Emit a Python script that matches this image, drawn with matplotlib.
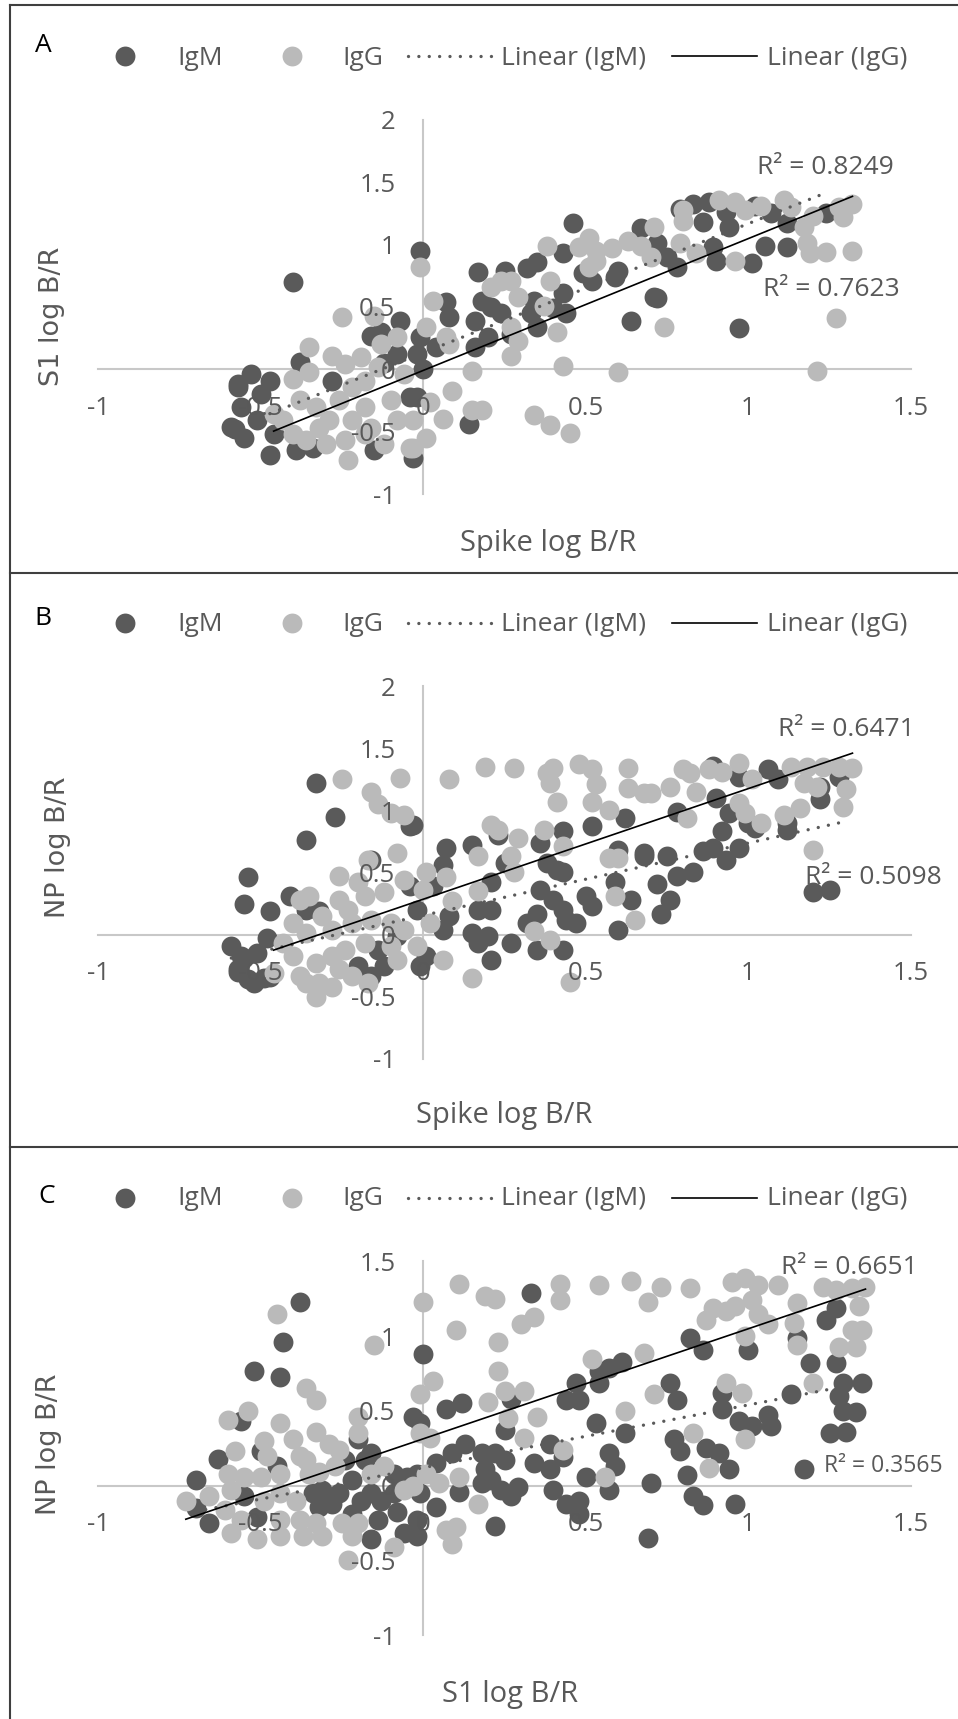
import numpy as np
import matplotlib.pyplot as plt
from matplotlib.lines import Line2D

W, H = 958, 1719

# ---- data (x, y) ----
a_igm = np.array([
    (-0.40, 0.70), (-0.07, 0.39), (-0.16, 0.27), (-0.13, 0.30), (-0.38, 0.06), (-0.53, -0.04),
    (-0.57, -0.12), (-0.47, -0.09), (-0.56, -0.30), (-0.59, -0.46), (-0.55, -0.55), (-0.51, -0.41),
    (-0.47, -0.69), (-0.39, -0.65), (-0.34, -0.63), (-0.28, -0.09), (-0.04, -0.22), (-0.15, -0.65),
    (-0.46, -0.52), (-0.57, -0.14), (-0.58, -0.48), (-0.50, -0.20), (0.00, 0.00), (-0.08, 0.12),
    (-0.12, 0.05), (-0.01, 0.95), (0.46, 1.17), (0.67, 1.13), (0.17, 0.78), (0.25, 0.79),
    (0.32, 0.81), (0.35, 0.86), (0.43, 0.93), (0.07, 0.54), (0.08, 0.42), (0.18, 0.55),
    (0.21, 0.50), (0.24, 0.45), (0.16, 0.39), (0.20, 0.26), (0.16, 0.18), (0.27, 0.28),
    (0.34, 0.55), (0.33, 0.45), (0.35, 0.34), (0.43, 0.61), (0.44, 0.45), (0.40, 0.49),
    (0.49, 0.77), (0.52, 0.71), (0.60, 0.79), (0.59, 0.74), (0.64, 0.39), (-0.01, 0.26),
    (-0.02, 0.12), (0.04, 0.18), (-0.02, -0.22), (-0.03, -0.71), (0.14, -0.44), (0.71, 0.58),
    (0.79, 1.29), (0.83, 1.33), (0.88, 1.34), (0.93, 1.26), (0.94, 1.14), (0.86, 1.18),
    (1.02, 1.31), (1.07, 1.25), (1.12, 1.17), (0.89, 0.98), (0.90, 0.87), (0.78, 0.82),
    (0.75, 0.90), (0.72, 1.01), (1.01, 0.85), (1.05, 0.99), (1.12, 0.98), (1.24, 1.25),
    (0.72, 0.57), (0.97, 0.33),
])
a_igg = np.array([
    (-0.25, 0.42), (-0.15, 0.43), (-0.35, 0.18), (-0.28, 0.11), (-0.24, 0.04), (-0.40, -0.08),
    (-0.35, -0.02), (-0.19, 0.10), (-0.13, 0.20), (-0.08, 0.26), (-0.18, -0.09), (-0.22, -0.14),
    (-0.46, -0.36), (-0.38, -0.25), (-0.33, -0.30), (-0.26, -0.25), (-0.18, -0.30), (-0.10, -0.25),
    (-0.08, -0.41), (-0.40, -0.52), (-0.36, -0.57), (-0.30, -0.60), (-0.24, -0.57), (-0.18, -0.52),
    (-0.12, -0.60), (-0.23, -0.73), (-0.04, -0.63), (-0.43, -0.41), (-0.29, -0.41), (-0.22, -0.41),
    (-0.16, -0.47), (-0.32, -0.47), (-0.06, -0.04), (-0.14, 0.02),
    (-0.01, 0.82), (0.38, 0.99), (0.51, 1.05), (0.48, 0.98), (0.53, 0.95), (0.58, 0.97),
    (0.63, 1.03), (0.67, 0.99), (0.51, 0.82), (0.53, 0.87), (0.21, 0.66), (0.24, 0.71),
    (0.27, 0.71), (0.29, 0.58), (0.39, 0.71), (0.37, 0.51), (0.03, 0.55), (0.01, 0.34),
    (0.07, 0.26), (0.08, 0.20), (0.27, 0.34), (0.29, 0.23), (0.27, 0.11), (0.41, 0.30),
    (0.15, -0.01), (0.43, 0.03), (0.60, -0.02), (0.09, -0.17), (0.02, -0.26), (0.06, -0.40),
    (0.01, -0.55), (-0.03, -0.41), (0.15, -0.33), (0.18, -0.33), (0.34, -0.37), (0.39, -0.45),
    (0.45, -0.51), (-0.03, -0.63),
    (0.71, 1.14), (0.80, 1.28), (0.80, 1.19), (0.79, 1.01), (0.70, 0.90), (0.84, 0.93),
    (0.91, 1.36), (0.96, 1.34), (0.99, 1.28), (1.04, 1.31), (1.11, 1.36), (1.13, 1.30),
    (1.17, 1.14), (1.18, 1.01), (1.19, 0.93), (1.24, 0.94), (1.28, 1.30), (1.32, 1.33),
    (1.29, 1.22), (1.32, 0.95), (0.96, 0.87), (1.27, 0.41), (0.74, 0.34), (1.21, -0.01),
    (1.20, 1.23),
])

b_igm = np.array([
    (-0.33, 1.22), (-0.27, 0.95), (-0.36, 0.76), (-0.54, 0.46), (-0.55, 0.25), (-0.47, 0.19),
    (-0.41, 0.31), (-0.36, 0.20), (-0.32, 0.19), (-0.59, -0.09), (-0.56, -0.17), (-0.51, -0.15),
    (-0.48, -0.03), (-0.57, -0.28), (-0.54, -0.36), (-0.49, -0.35), (-0.20, -0.25), (-0.16, -0.33),
    (-0.12, -0.25), (-0.16, 0.60), (-0.04, 0.87), (-0.04, 0.39), (-0.08, -0.01), (-0.14, -0.12),
    (-0.55, -0.19), (-0.57, -0.30), (-0.52, -0.39), (-0.47, -0.34),
    (-0.03, 0.88), (0.07, 0.70), (0.15, 0.72), (0.06, 0.56), (0.03, 0.39), (0.23, 0.80),
    (0.25, 0.58), (0.21, 0.42), (0.17, 0.20), (0.21, 0.20), (0.15, 0.01), (0.17, -0.07),
    (0.20, -0.01), (0.21, -0.20), (0.27, -0.07), (0.35, 0.17), (0.32, 0.09), (0.35, -0.12),
    (0.43, -0.12), (0.36, 0.36), (0.40, 0.28), (0.43, 0.20), (0.44, 0.12), (0.47, 0.09),
    (0.43, 0.83), (0.36, 0.74), (0.38, 0.58), (0.41, 0.52), (0.43, 0.50), (0.52, 0.87),
    (0.62, 0.94), (0.50, 0.31), (0.52, 0.23), (0.60, 0.68), (0.59, 0.42), (0.64, 0.28),
    (0.60, 0.04), (0.68, 0.63), (-0.01, -0.25), (0.01, -0.17), (0.08, 0.15), (0.06, 0.04),
    (-0.02, 0.20),
    (0.78, 0.99), (0.90, 1.10), (0.89, 1.36), (0.97, 1.27), (1.06, 1.33), (1.09, 1.25),
    (0.94, 0.98), (0.92, 0.83), (1.00, 0.90), (1.02, 0.86), (0.68, 0.66), (0.75, 0.63),
    (0.72, 0.41), (0.78, 0.47), (0.83, 0.50), (0.76, 0.28), (0.73, 0.17), (0.86, 0.67),
    (0.89, 0.70), (0.93, 0.60), (0.97, 0.70), (1.12, 0.84), (1.12, 0.90), (1.22, 1.09),
    (1.22, 1.19), (1.20, 0.34), (1.25, 0.36), (1.28, 1.27),
])
b_igg = np.array([
    (-0.25, 1.25), (-0.07, 1.26), (-0.16, 1.15), (-0.14, 1.05), (-0.10, 0.98), (-0.06, 0.96),
    (-0.08, 0.66), (-0.17, 0.60), (-0.26, 0.47), (-0.20, 0.42), (-0.06, 0.44), (-0.35, 0.31),
    (-0.38, 0.28), (-0.26, 0.28), (-0.18, 0.31), (-0.12, 0.34), (-0.23, 0.20), (-0.31, 0.15),
    (-0.40, 0.09), (-0.36, 0.01), (-0.28, 0.04), (-0.22, 0.09), (-0.16, 0.12), (-0.10, 0.09),
    (-0.06, 0.04), (-0.46, -0.31), (-0.40, -0.17), (-0.38, -0.33), (-0.33, -0.23), (-0.28, -0.17),
    (-0.24, -0.12), (-0.26, -0.28), (-0.22, -0.33), (-0.32, -0.39), (-0.36, -0.39), (-0.33, -0.50),
    (-0.28, -0.42), (-0.17, -0.39), (-0.10, -0.09), (-0.08, -0.20), (-0.43, -0.07), (-0.18, -0.07),
    (0.08, 1.25), (0.19, 1.35), (0.28, 1.34), (0.38, 1.30), (0.40, 1.34), (0.39, 1.22),
    (0.41, 1.07), (0.48, 1.37), (0.52, 1.33), (0.53, 1.21), (0.52, 1.07), (0.57, 1.00),
    (0.63, 1.34), (0.63, 1.18), (0.68, 1.14), (0.21, 0.88), (0.23, 0.84), (0.29, 0.78),
    (0.17, 0.63), (0.27, 0.63), (0.28, 0.50), (0.37, 0.84), (0.43, 0.71), (0.01, 0.50),
    (0.07, 0.46), (0.00, 0.36), (0.09, 0.27), (0.17, 0.35), (0.57, 0.62), (0.60, 0.62),
    (0.59, 0.31), (0.65, 0.12), (0.34, 0.03), (0.39, -0.04), (0.02, 0.09), (-0.02, -0.09),
    (0.06, -0.20), (0.15, -0.35), (0.45, -0.38),
    (0.70, 1.14), (0.76, 1.19), (0.80, 1.33), (0.82, 1.30), (0.84, 1.15), (0.88, 1.33),
    (0.92, 1.31), (0.97, 1.38), (1.01, 1.25), (1.13, 1.35), (1.18, 1.35), (1.23, 1.35),
    (1.28, 1.35), (1.32, 1.34), (1.17, 1.22), (1.21, 1.19), (1.30, 1.17), (1.29, 1.03),
    (1.16, 1.02), (1.11, 0.96), (0.81, 0.94), (0.97, 1.06), (0.99, 0.98), (1.04, 0.90),
    (1.20, 0.68),
])

c_igm = np.array([
    (-0.38, 1.23), (-0.43, 0.96), (-0.52, 0.77), (-0.44, 0.73), (-0.56, 0.43), (-0.63, 0.18),
    (-0.50, 0.23), (-0.70, 0.04), (-0.70, -0.15), (-0.66, -0.25), (-0.55, -0.07), (-0.51, -0.21),
    (-0.45, 0.13), (-0.31, -0.03), (-0.26, -0.05), (-0.32, -0.14), (-0.24, 0.17), (-0.22, 0.04),
    (-0.18, 0.17), (-0.16, -0.05), (-0.19, -0.10), (-0.13, -0.10), (-0.09, -0.05), (-0.08, -0.18),
    (-0.14, -0.23), (-0.16, -0.36), (-0.06, -0.32), (-0.05, 0.06), (-0.09, 0.08), (-0.16, 0.22),
    (-0.22, -0.19), (-0.28, -0.12), (-0.34, -0.05), (-0.03, 0.46), (-0.20, 0.31),
    (0.33, 1.29), (0.00, 0.88), (0.07, 0.51), (0.12, 0.55), (0.27, 0.58), (0.25, 0.37),
    (-0.01, 0.42), (0.47, 0.69), (0.44, 0.57), (0.48, 0.57), (0.54, 0.77), (0.57, 0.79),
    (0.61, 0.83), (0.54, 0.69), (0.53, 0.42), (0.62, 0.35), (0.13, 0.28), (0.09, 0.22),
    (0.04, 0.15), (0.18, 0.22), (0.22, 0.22), (0.25, 0.17), (0.19, 0.11), (0.21, 0.04),
    (0.18, 0.02), (0.24, -0.03), (0.27, -0.07), (0.29, -0.01), (0.11, -0.04), (0.34, 0.15),
    (0.39, 0.28), (0.43, 0.19), (0.39, 0.11), (0.40, -0.03), (0.44, -0.12), (0.48, -0.10),
    (0.48, -0.19), (0.50, 0.06), (0.57, 0.22), (0.59, 0.13), (0.57, -0.03), (-0.02, 0.08),
    (-0.01, -0.05), (0.04, -0.14), (-0.02, -0.23), (-0.02, -0.34), (0.22, -0.27), (0.70, 0.02),
    (0.69, -0.35),
    (0.82, 0.99), (0.86, 0.91), (1.00, 0.91), (1.15, 0.99), (1.24, 1.11), (1.27, 1.19),
    (1.19, 0.82), (1.27, 0.82), (0.76, 0.69), (0.78, 0.57), (0.92, 0.62), (0.92, 0.51),
    (1.13, 0.61), (1.29, 0.69), (1.35, 0.69), (1.28, 0.60), (1.29, 0.50), (1.33, 0.49),
    (0.97, 0.43), (1.01, 0.40), (1.06, 0.47), (1.07, 0.40), (1.25, 0.35), (1.30, 0.36),
    (0.77, 0.31), (0.79, 0.23), (0.87, 0.25), (0.91, 0.22), (0.94, 0.11), (0.81, 0.07),
    (1.17, 0.11), (0.83, -0.07), (0.86, -0.13), (0.96, -0.12),
])
c_igg = np.array([
    (-0.45, 1.15), (-0.15, 0.94), (-0.36, 0.65), (-0.33, 0.57), (-0.60, 0.44), (-0.54, 0.50),
    (-0.44, 0.42), (-0.40, 0.31), (-0.33, 0.36), (-0.29, 0.28), (-0.26, 0.24), (-0.20, 0.46),
    (-0.20, 0.35), (-0.58, 0.23), (-0.49, 0.30), (-0.48, 0.20), (-0.38, 0.20), (-0.36, 0.17),
    (-0.60, 0.08), (-0.55, 0.06), (-0.50, 0.06), (-0.44, 0.08), (-0.32, 0.09), (-0.27, 0.13),
    (-0.73, -0.10), (-0.66, -0.07), (-0.59, -0.03), (-0.61, -0.16), (-0.56, -0.23), (-0.59, -0.32),
    (-0.51, -0.36), (-0.49, -0.10), (-0.44, -0.05), (-0.39, -0.10), (-0.44, -0.23), (-0.44, -0.34),
    (-0.38, -0.23), (-0.37, -0.34), (-0.33, -0.25), (-0.31, -0.34), (-0.25, -0.25), (-0.20, -0.25),
    (-0.22, -0.34), (-0.23, -0.50), (-0.09, -0.41), (-0.16, 0.08), (-0.12, 0.13), (-0.06, -0.03),
    (-0.35, 0.08),
    (0.00, 1.23), (0.11, 1.35), (0.19, 1.27), (0.22, 1.25), (0.42, 1.35), (0.42, 1.24),
    (0.54, 1.34), (0.64, 1.37), (0.69, 1.23), (0.34, 1.13), (0.30, 1.08), (0.10, 1.04),
    (0.23, 0.96), (0.23, 0.77), (0.03, 0.70), (-0.01, 0.61), (0.20, 0.56), (0.25, 0.63),
    (0.31, 0.63), (0.35, 0.46), (0.26, 0.45), (0.31, 0.32), (0.52, 0.85), (0.68, 0.89),
    (0.62, 0.50), (0.43, 0.24), (0.56, 0.06), (0.11, 0.06), (0.05, 0.02), (0.01, 0.08),
    (-0.01, 0.35), (0.02, 0.32), (0.17, -0.12), (0.07, -0.30), (0.10, -0.28), (0.09, -0.39),
    (-0.03, 0.00),
    (0.73, 1.33), (0.82, 1.32), (0.89, 1.19), (0.87, 1.11), (0.93, 1.17), (0.96, 1.20),
    (0.95, 1.36), (0.99, 1.39), (1.03, 1.34), (1.01, 1.24), (1.03, 1.15), (1.06, 1.08),
    (0.99, 1.00), (1.09, 1.34), (1.15, 1.22), (1.14, 1.09), (1.15, 0.94), (1.23, 1.33),
    (1.27, 1.31), (1.32, 1.32), (1.36, 1.33), (1.34, 1.20), (1.32, 1.04), (1.35, 1.04),
    (1.28, 0.93), (1.33, 0.93), (1.20, 0.69), (0.93, 0.69), (0.98, 0.62), (0.71, 0.61),
    (0.83, 0.35), (0.99, 0.31), (0.88, 0.12),
])

# linear trend lines as shown (slope, intercept)
a_fit_igm, a_fit_igg = (1.036, 0.133), (1.058, -0.009)
b_fit_igm, b_fit_igg = (0.582, 0.155), (0.890, 0.285)
c_fit_igm, c_fit_igg = (0.420, 0.120), (0.737, 0.313)

a_r2 = ["R\u00b2 = 0.8249", "R\u00b2 = 0.7623"]
b_r2 = ["R\u00b2 = 0.6471", "R\u00b2 = 0.5098"]
c_r2 = ["R\u00b2 = 0.6651", "R\u00b2 = 0.3565"]

x_ticks = [-1, -0.5, 0, 0.5, 1, 1.5]
x_tick_labels = ["-1", "-0.5", "0", "0.5", "1", "1.5"]
y_ticks_ab = [-1, -0.5, 0, 0.5, 1, 1.5, 2]
y_tick_labels_ab = ["-1", "-0.5", "0", "0.5", "1", "1.5", "2"]
y_ticks_c = [-1, -0.5, 0, 0.5, 1, 1.5]
y_tick_labels_c = ["-1", "-0.5", "0", "0.5", "1", "1.5"]

legend_labels = ["IgM", "IgG", "Linear (IgM)", "Linear (IgG)"]

# ---- style ----
BODY = "Open Sans"
DARK = "#5a5a5a"
LIGHT = "#bababa"
AXISC = "#c8c8c8"
TXT = "#595959"
BORDER = "#3f3f3f"
DOTS = (0, (0.01, 3.1))

fig = plt.figure(figsize=(W / 100, H / 100), dpi=100)


def fx(x):
    return x / W


def fy(y):
    return 1 - y / H


def panel(top, bottom, igm, igg, fit_m, fit_g, ylim, yt, ytl):
    ax = fig.add_axes([fx(98), fy(bottom), (911 - 98) / W, (bottom - top) / H])
    ax.set_xlim(-1, 1.5)
    ax.set_ylim(*ylim)
    for s in ["top", "right"]:
        ax.spines[s].set_visible(False)
    for s in ["left", "bottom"]:
        ax.spines[s].set_position(("data", 0))
        ax.spines[s].set_color(AXISC)
        ax.spines[s].set_linewidth(1.5)
        ax.spines[s].set_zorder(0.5)
    ax.set_xticks(x_ticks)
    ax.set_xticklabels(x_tick_labels)
    ax.set_yticks(yt)
    ax.set_yticklabels(ytl)
    ax.tick_params(length=0, labelsize=18.5, labelcolor=TXT)
    ax.tick_params(axis="x", pad=19)
    ax.tick_params(axis="y", pad=20)
    for t in ax.get_xticklabels() + ax.get_yticklabels():
        t.set_fontfamily(BODY)
    ax.xaxis.set_zorder(3)
    ax.yaxis.set_zorder(3)
    ax.patch.set_visible(False)

    ax.scatter(igm[:, 0], igm[:, 1], s=205, color=DARK, linewidths=0, zorder=1, clip_on=False)
    ax.scatter(igg[:, 0], igg[:, 1], s=205, color=LIGHT, linewidths=0, zorder=1.1, clip_on=False)

    xm = np.array([igm[:, 0].min(), igm[:, 0].max()])
    ax.plot(xm, fit_m[0] * xm + fit_m[1], color=DARK, lw=2.4,
            ls=DOTS, dash_capstyle="round", zorder=4)
    xg = np.array([igg[:, 0].min(), igg[:, 0].max()])
    ax.plot(xg, fit_g[0] * xg + fit_g[1], color="black", lw=1.2, zorder=4)
    return ax


def legend(ly, base):
    fig.add_artist(Line2D([fx(125)], [fy(ly)], marker="o", ms=14.3, color=DARK,
                          ls="none", mew=0, transform=fig.transFigure))
    fig.add_artist(Line2D([fx(292)], [fy(ly)], marker="o", ms=14.3, color=LIGHT,
                          ls="none", mew=0, transform=fig.transFigure))
    fig.add_artist(Line2D([fx(408), fx(494)], [fy(ly), fy(ly)], color=DARK, lw=2.4,
                          ls=DOTS, dash_capstyle="round", transform=fig.transFigure))
    fig.add_artist(Line2D([fx(672), fx(757)], [fy(ly), fy(ly)], color="black", lw=1.2,
                          transform=fig.transFigure))
    for x0, lab in zip([177, 342, 501, 767], legend_labels):
        fig.text(fx(x0), fy(base), lab, ha="left", va="baseline", fontsize=19,
                 color=TXT, family=BODY)


def ylabel(x, y, s):
    fig.text(fx(x), fy(y), s, fontsize=19.5, color=TXT, family="DejaVu Sans",
             rotation=90, ha="center", va="center")


def xlabel(x, y, s):
    fig.text(fx(x), fy(y), s, fontsize=21, color=TXT, family=BODY, ha="center", va="center")


def r2(x, y, s, size=19):
    fig.text(fx(x), fy(y), s, fontsize=size, color=TXT, family=BODY, ha="center", va="center")


def letter(x, y, s):
    fig.text(fx(x), fy(y), s, fontsize=19, color="black", family=BODY, va="baseline")


# panel A
panel(120, 494, a_igm, a_igg, a_fit_igm, a_fit_igg, (-1, 2), y_ticks_ab, y_tick_labels_ab)
legend(56, 65)
letter(35, 52, "A")
xlabel(548, 544, "Spike log B/R")
ylabel(52, 316, "S1 log B/R")
r2(825, 168, a_r2[0])
r2(831, 289, a_r2[1])

# panel B
panel(686, 1059, b_igm, b_igg, b_fit_igm, b_fit_igg, (-1, 2), y_ticks_ab, y_tick_labels_ab)
legend(623, 631)
letter(34, 625, "B")
xlabel(504, 1115, "Spike log B/R")
ylabel(58, 847, "NP log B/R")
r2(846, 729, b_r2[0])
r2(873, 877, b_r2[1])

# panel C
panel(1261.5, 1635, c_igm, c_igg, c_fit_igm, c_fit_igg, (-1, 1.5), y_ticks_c, y_tick_labels_c)
legend(1198, 1205)
letter(38, 1203, "C")
xlabel(510, 1694, "S1 log B/R")
ylabel(49, 1444, "NP log B/R")
r2(849, 1267, c_r2[0])
r2(883, 1466, c_r2[1], size=16.5)

# panel frames
for yb in [5, 573, 1147]:
    fig.add_artist(Line2D([fx(10), fx(W)], [fy(yb), fy(yb)], color=BORDER, lw=1.5,
                          transform=fig.transFigure))
fig.add_artist(Line2D([fx(10), fx(10)], [fy(5), fy(H)], color=BORDER, lw=1.5,
                      transform=fig.transFigure))

fig.savefig("out.png", dpi=100)
